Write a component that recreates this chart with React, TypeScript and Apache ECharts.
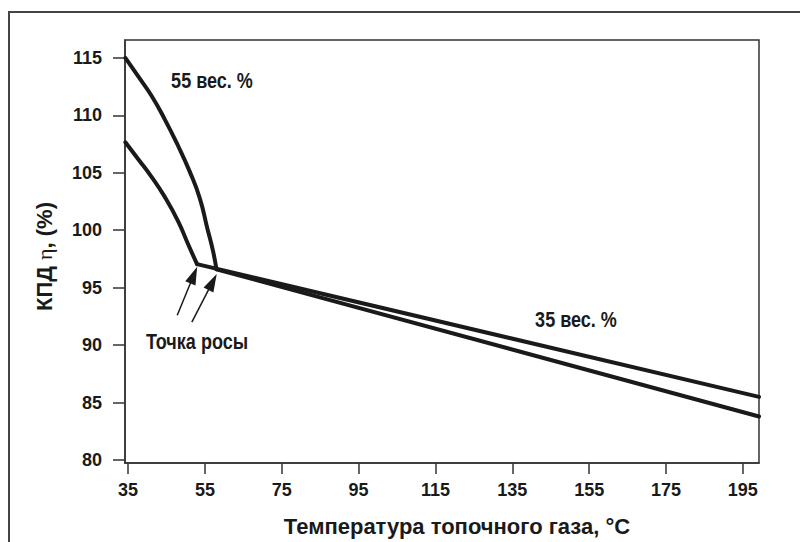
import React, { useEffect, useRef } from 'react';
import * as echarts from 'echarts';

// Axis ticks
const xTicks = [35, 55, 75, 95, 115, 135, 155, 175, 195];
const yTicks = [80, 85, 90, 95, 100, 105, 110, 115];

// Upper curve (55 wt.%) – condensing part, then straight part after dew point
const upperCurve: [number, number][] = [
  [34.3, 115.0], [37.6, 113.4], [41.1, 111.7], [44.55, 109.65], [48.0, 107.35], [51.05, 105.1],
  [53.65, 102.8], [55.6, 100.2], [57.1, 98.2], [58.0, 96.6],
];
const upperStraight: [number, number][] = [
  [58.0, 96.6], [199.2, 83.8],
];

// Lower curve – condensing part, then straight part after dew point
const lowerCurve: [number, number][] = [
  [34.3, 107.65], [37.6, 106.2], [41.1, 104.65], [44.55, 102.9], [48.0, 100.8], [50.6, 98.8], [52.95, 97.05],
];
const lowerStraight: [number, number][] = [
  [52.95, 97.05], [199.2, 85.5],
];

// Dew point arrows: [tail, head]
const arrows: [number, number][][] = [
  [[47.8, 92.6], [52.1, 96.1]],
  [[51.6, 92.0], [57.0, 95.5]],
];

const FONT = '"Liberation Sans", Arial, sans-serif';
const INK = '#1a1a1a';

export default function App() {
  const ref = useRef<HTMLDivElement>(null);
  useEffect(() => {
    if (!ref.current) return;
    const chart = echarts.init(ref.current, null, { renderer: 'svg' });
    const lineBase = (data: [number, number][], smooth: number | boolean) => ({
      type: 'line',
      data,
      smooth,
      showSymbol: false,
      symbol: 'none',
      lineStyle: { color: INK, width: 4, cap: 'round', join: 'round' },
      silent: true,
    });
    const label = (text: string, x: number, y: number, size: number, sx: number) => ({
      type: 'text', x, y, scaleX: sx, silent: true,
      style: { text, font: `bold ${size}px ${FONT}`, fill: INK, align: 'center', verticalAlign: 'middle' },
    });
    chart.setOption({
      animation: false,
      backgroundColor: '#ffffff',
      grid: {
        left: 125, right: 41, top: 40, bottom: 74,
        show: true, borderColor: '#333', borderWidth: 1.5, backgroundColor: 'transparent',
      },
      xAxis: {
        type: 'value',
        min: 34.2,
        max: 199.2,
        name: 'Температура топочного газа, °C',
        nameLocation: 'middle',
        nameGap: 52,
        nameTextStyle: { fontFamily: FONT, fontWeight: 'bold', fontSize: 22, color: INK, padding: [0, 0, 0, 30] },
        axisLine: { show: true, lineStyle: { color: '#333', width: 1.5 } },
        axisTick: { show: true, customValues: xTicks, length: 11, lineStyle: { color: '#333', width: 1.5 } },
        axisLabel: { customValues: xTicks, margin: 18, fontFamily: FONT, fontWeight: 'bold', fontSize: 18, color: INK },
        splitLine: { show: false },
      },
      yAxis: {
        type: 'value',
        min: 79.75,
        max: 116.55,
        name: '{b|КПД }{s|η}{b|, (%)}',
        nameLocation: 'middle',
        nameGap: 70,
        nameRotate: 90,
        nameTextStyle: {
          padding: [0, 10, 0, 0],
          rich: {
            b: { fontFamily: FONT, fontWeight: 'bold', fontSize: 22, color: INK },
            s: { fontFamily: '"Liberation Serif", "DejaVu Serif", serif', fontSize: 22, color: INK },
          },
        },
        axisLine: { show: true, lineStyle: { color: '#333', width: 1.5 } },
        axisTick: { show: true, customValues: yTicks, length: 12, lineStyle: { color: '#333', width: 1.5 } },
        axisLabel: { customValues: yTicks, margin: 23, fontFamily: FONT, fontWeight: 'bold', fontSize: 18, color: INK },
        splitLine: { show: false },
      },
      graphic: [
        {
          type: 'rect', silent: true,
          shape: { x: 9, y: 12, width: 900, height: 700 },
          style: { fill: 'none', stroke: '#444', lineWidth: 2 },
        },
        label('55 вес. %', 212, 80, 22, 0.82),
        label('35 вес. %', 576, 319, 22, 0.82),
        label('Точка росы', 197, 341, 22, 0.82),
      ],
      series: [
        lineBase(upperCurve, 0.5),
        lineBase(upperStraight, false),
        lineBase(lowerCurve, 0.5),
        {
          ...lineBase(lowerStraight, false),
          markLine: {
            silent: true,
            animation: false,
            symbol: ['none', 'triangle'],
            symbolSize: [11, 18],
            label: { show: false },
            lineStyle: { color: INK, width: 1.5, type: 'solid' },
            emphasis: { disabled: true },
            data: arrows.map(([a, b]) => [{ coord: a }, { coord: b }]),
          },
        },
      ],
    });
    return () => chart.dispose();
  }, []);
  return <div ref={ref} style={{ position: 'absolute', left: 0, top: 0, width: 800, height: 542 }} />;
}
